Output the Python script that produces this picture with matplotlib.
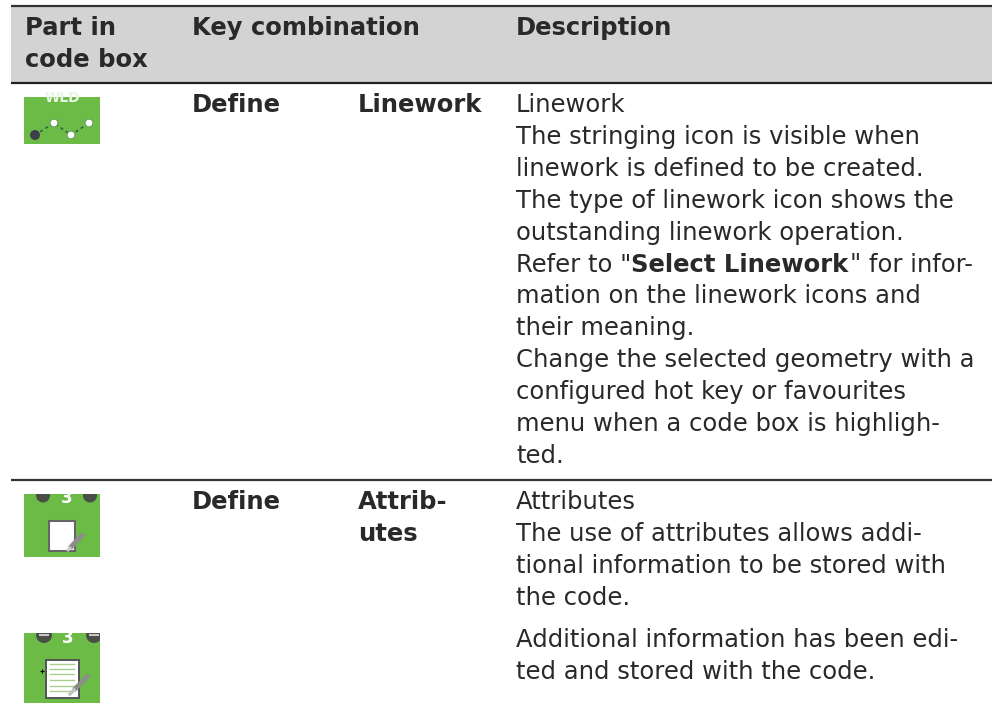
import matplotlib
matplotlib.use('Agg')
import matplotlib.pyplot as plt
from matplotlib.patches import Rectangle, Circle

# Table content
header_col1 = ['Part in', 'code box']
header_col2 = 'Key combination'
header_col3 = 'Description'
keys_row1 = ['Define', 'Linework']
keys_row2 = ['Define', 'Attrib-', 'utes']
desc_lines_row1 = [
    'Linework',
    'The stringing icon is visible when',
    'linework is defined to be created.',
    'The type of linework icon shows the',
    'outstanding linework operation.',
    None,
    'mation on the linework icons and',
    'their meaning.',
    'Change the selected geometry with a',
    'configured hot key or favourites',
    'menu when a code box is highligh-',
    'ted.',
]
refer_parts = [('Refer to "', 'normal'), ('Select Linework', 'bold'), ('"', 'normal'), ('for infor-', 'normal')]
desc_lines_row2 = ['Attributes', 'The use of attributes allows addi-',
                   'tional information to be stored with', 'the code.']
desc_lines_row3 = ['Additional information has been edi-', 'ted and stored with the code.']

TEXT_COLOR = '#2b2829'
GREEN = '#6cbb47'
FONT = 'DejaVu Sans'
SIZE = 17.5

fig = plt.figure(figsize=(9.92, 7.19), dpi=100)
ax = fig.add_axes([0, 0, 1, 1])
ax.set_xlim(0, 992)
ax.set_ylim(719, 0)
ax.axis('off')


def put(x, y, s, weight='normal'):
    return ax.text(x, y, s, fontsize=SIZE, family=FONT, weight=weight, color=TEXT_COLOR,
                   ha='left', va='baseline')


# header band and rules
ax.add_patch(Rectangle((11, 6), 981, 76, fc='#d3d3d3', ec='none'))
ax.plot([11, 992], [6, 6], color='#333333', lw=1.6, solid_capstyle='butt')
ax.plot([11, 992], [82.5, 82.5], color='#231f20', lw=1.6, solid_capstyle='butt')
ax.plot([11, 992], [479.5, 479.5], color='#333333', lw=1.6, solid_capstyle='butt')

put(25, 35, header_col1[0], 'bold')
put(25, 67, header_col1[1], 'bold')
put(191.5, 35, header_col2, 'bold')
put(516, 35, header_col3, 'bold')

put(191.5, 112, keys_row1[0], 'bold')
put(358, 112, keys_row1[1], 'bold')
put(191.5, 509, keys_row2[0], 'bold')
put(358, 509, keys_row2[1], 'bold')
put(358, 541, keys_row2[2], 'bold')

# description column
y0 = 112
step = 31.9
for i, line in enumerate(desc_lines_row1):
    y = y0 + i * step
    if line is None:
        # mixed weight line, one text per part
        for (s, w), x in zip(refer_parts, [516, 631, 850, 869]):
            put(x, y, s, w)
    else:
        put(516, y, line)
for i, line in enumerate(desc_lines_row2):
    put(516, 509 + i * step, line)
for i, line in enumerate(desc_lines_row3):
    put(516, 647 + i * step, line)


def green_box(x, y, w, h):
    box = Rectangle((x, y), w, h, fc=GREEN, ec='none')
    ax.add_patch(box)
    return box


# icon 1, linework
box = green_box(24, 97, 76, 47)
t = ax.text(62, 98.5, 'WLD', color='#e8f5e0', fontsize=10, weight='bold', ha='center', va='center', family=FONT)
t.set_clip_path(box)
ax.plot([35, 54, 71, 89], [135, 123, 135, 123], color='#2f5f3a', lw=1.1, ls=(0, (2, 2)))
ax.add_patch(Circle((35, 135), 5, fc='#3f3f4a', ec='none', zorder=3))
for px, py in [(54, 123), (71, 135), (89, 123)]:
    ax.add_patch(Circle((px, py), 3.8, fc='white', ec='#5a8f5a', lw=0.5, zorder=3))

# icon 2, attributes empty
box = green_box(24, 494, 76, 63)
for cx in [43, 90]:
    c = Circle((cx, 495.5), 7, fc='#4a4f45', ec='none')
    ax.add_patch(c)
    c.set_clip_path(box)
t = ax.text(66.5, 498, '3', color='white', fontsize=12, weight='bold', ha='center', va='center', family=FONT)
t.set_clip_path(box)
ax.add_patch(Rectangle((49, 521), 26, 30, fc='white', ec='#666666', lw=1.5))
ax.plot([70, 83], [548, 534], color='#8c8c8c', lw=3.5, solid_capstyle='butt')
ax.plot([68, 70], [550, 548], color='#cccccc', lw=2)

# icon 3, attributes edited
box = green_box(24, 633, 76, 70)
for cx in [44, 94]:
    c = Circle((cx, 635), 8, fc='#4a4f45', ec='none')
    ax.add_patch(c)
    c.set_clip_path(box)
ax.plot([40, 48], [635, 635], color='#c8c8c8', lw=1.5)[0].set_clip_path(box)
ax.plot([90, 98], [635, 635], color='#c8c8c8', lw=1.5)[0].set_clip_path(box)
t = ax.text(67.5, 638, '3', color='white', fontsize=12, weight='bold', ha='center', va='center', family=FONT)
t.set_clip_path(box)
ax.add_patch(Rectangle((46, 660), 33, 38, fc='white', ec='#555555', lw=1.4))
for ly in [664, 669, 674, 680, 686, 691]:
    ax.plot([50, 74], [ly, ly], color='#a9cf8f', lw=1)
ax.plot([74, 89], [690, 675], color='#8a8f88', lw=3.5, solid_capstyle='butt')
ax.plot([70, 74], [694, 690], color='#c4c4c4', lw=2.5)
ax.plot([41.5], [671], marker='+', color='black', ms=3, mew=0.8)

fig.savefig('out.png', dpi=100)
